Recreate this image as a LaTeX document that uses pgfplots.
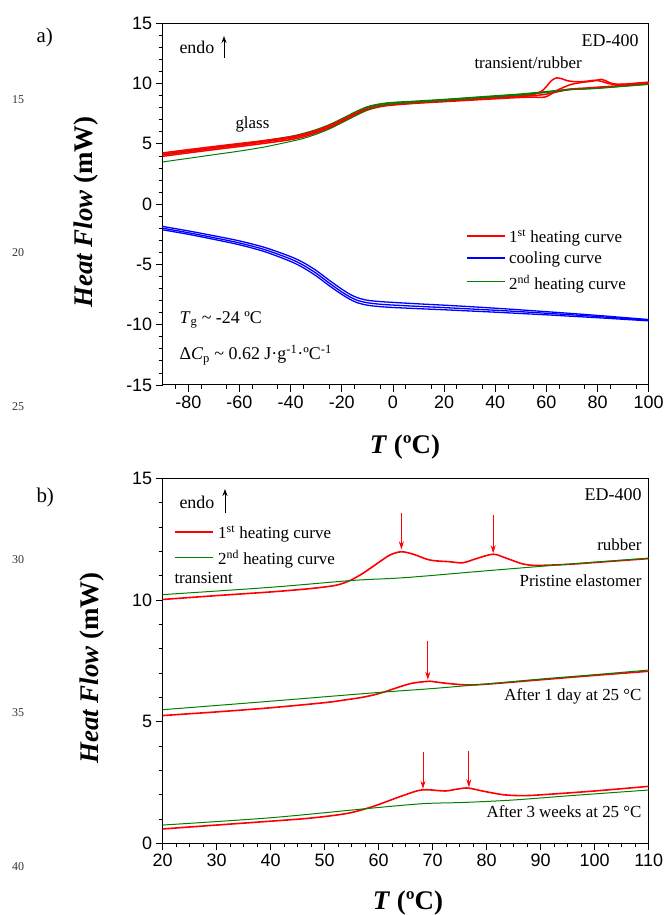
\documentclass[border=0pt]{standalone}
\usepackage{pgfplots}
\pgfplotsset{compat=1.18}
\usetikzlibrary{arrows.meta}
\usepackage{fontspec}
\setmainfont{Liberation Serif}
\newfontfamily\arialfont{Liberation Sans}
\definecolor{dgreen}{RGB}{0,128,0}
\pgfplotsset{dsc/.style={
  scale only axis, width=486bp,
  axis line style={line width=1bp},
  tick align=outside, xtick pos=left, ytick pos=left,
  major tick length=7bp, minor tick length=4bp,
  every tick/.style={black, line width=0.8bp},
  tick label style={font=\fontsize{18}{18}\selectfont\arialfont},
  /pgf/number format/assume math mode=true,
}}
\begin{document}
\begin{tikzpicture}
\path[use as bounding box] (0,0) rectangle (666bp,915bp);
% ---------------- panel a ----------------
\begin{axis}[dsc, at={(162.7bp,530bp)}, anchor=south west, height=361.7bp,
  xmin=-90, xmax=100, ymin=-15, ymax=15,
  xtick={-80,-60,...,100}, minor xtick={-85,-75,...,95},
  ytick={-15,-10,...,15}, minor ytick={-14,-13,...,14}]
\addplot[dgreen, line width=1.2bp, smooth] coordinates {(-90,4.08) (-80,4.35) (-70,4.62) (-60,4.9) (-50,5.2) (-40,5.55) (-35,5.8) (-30,6.1) (-25,6.5) (-20,7.0) (-15,7.55) (-10,8.02) (-5,8.28) (0,8.4) (10,8.52) (20,8.65) (30,8.8) (40,8.95) (50,9.1) (60,9.3) (65,9.4) (70,9.52) (75,9.55) (80,9.62) (90,9.78) (100,9.95)};
\addplot[dgreen, line width=1.2bp, smooth] coordinates {(-90,4.16) (-80,4.43) (-70,4.7) (-60,4.98) (-50,5.28) (-40,5.62) (-35,5.87) (-30,6.18) (-25,6.58) (-20,7.08) (-15,7.62) (-10,8.08) (-5,8.32) (0,8.44) (10,8.56) (20,8.69) (30,8.84) (40,8.99) (50,9.14) (60,9.34) (65,9.45) (70,9.56) (75,9.6) (80,9.66) (90,9.82) (100,9.98)};
\addplot[red, line width=1.5bp, smooth] coordinates {(-90,4.25) (-80,4.52) (-70,4.78) (-60,5.03) (-50,5.28) (-40,5.58) (-35,5.8) (-30,6.1) (-25,6.5) (-20,6.98) (-15,7.5) (-10,7.93) (-5,8.18) (0,8.3) (5,8.38) (10,8.45) (20,8.58) (30,8.72) (40,8.86) (50,9.0) (55,9.1) (58,9.35) (60,9.75) (62,10.25) (64,10.47) (66,10.4) (68,10.25) (70,10.18) (73,10.15) (76,10.2) (78,10.26) (80,10.25) (82,10.15) (84,10.02) (86,9.95) (90,9.95) (95,10.03) (100,10.12)};
\addplot[red, line width=1.5bp, smooth] coordinates {(-90,3.97) (-80,4.25) (-70,4.52) (-60,4.78) (-50,5.05) (-40,5.35) (-35,5.58) (-30,5.9) (-25,6.3) (-20,6.78) (-15,7.32) (-10,7.8) (-5,8.08) (0,8.22) (10,8.38) (20,8.5) (30,8.62) (40,8.74) (50,8.85) (55,8.88) (58,8.85) (60,8.92) (62,9.15) (64,9.42) (66,9.62) (68,9.8) (70,9.95) (74,10.1) (78,10.2) (80,10.3) (81.5,10.35) (83,10.25) (85,10.05) (88,9.93) (92,9.95) (100,10.08)};
\addplot[red, line width=1.5bp, smooth] coordinates {(-90,4.1) (-80,4.38) (-70,4.65) (-60,4.9) (-50,5.17) (-40,5.47) (-35,5.7) (-30,6.0) (-25,6.4) (-20,6.88) (-15,7.42) (-10,7.87) (-5,8.13) (0,8.26) (10,8.41) (20,8.54) (30,8.67) (40,8.8) (50,8.93) (55,9.0) (60,9.12) (65,9.35) (70,9.55) (75,9.62) (80,9.7) (90,9.85) (100,10.05)};
\addplot[blue, line width=1.3bp, smooth] coordinates {(-90,-1.85) (-80,-2.22) (-70,-2.62) (-60,-3.05) (-50,-3.6) (-40,-4.35) (-35,-4.85) (-30,-5.5) (-25,-6.3) (-20,-7.05) (-17,-7.45) (-14,-7.75) (-10,-7.97) (-5,-8.08) (0,-8.15) (10,-8.27) (20,-8.38) (30,-8.5) (40,-8.63) (50,-8.77) (60,-8.92) (70,-9.07) (80,-9.23) (90,-9.4) (100,-9.57)};
\addplot[blue, line width=1.3bp, smooth] coordinates {(-90,-2.0) (-80,-2.37) (-70,-2.78) (-60,-3.22) (-50,-3.78) (-40,-4.55) (-35,-5.07) (-30,-5.73) (-25,-6.53) (-20,-7.28) (-17,-7.67) (-14,-7.97) (-10,-8.18) (-5,-8.3) (0,-8.37) (10,-8.48) (20,-8.58) (30,-8.69) (40,-8.8) (50,-8.92) (60,-9.05) (70,-9.18) (80,-9.32) (90,-9.47) (100,-9.62)};
\addplot[blue, line width=1.3bp, smooth] coordinates {(-90,-2.13) (-80,-2.5) (-70,-2.92) (-60,-3.37) (-50,-3.95) (-40,-4.75) (-35,-5.28) (-30,-5.95) (-25,-6.75) (-20,-7.48) (-17,-7.87) (-14,-8.17) (-10,-8.38) (-5,-8.5) (0,-8.57) (10,-8.67) (20,-8.76) (30,-8.86) (40,-8.96) (50,-9.07) (60,-9.18) (70,-9.3) (80,-9.42) (90,-9.55) (100,-9.68)};
\addplot[dgreen, line width=1bp, smooth] coordinates {(-90,3.5) (-80,3.8) (-70,4.1) (-60,4.4) (-50,4.75) (-40,5.2) (-35,5.45) (-30,5.8) (-25,6.22) (-20,6.75) (-15,7.3) (-10,7.82) (-5,8.15) (0,8.32) (10,8.47) (20,8.6) (30,8.75) (40,8.9) (50,9.05) (60,9.25) (65,9.38) (70,9.5) (80,9.6) (90,9.77) (100,9.93)};
\end{axis}
% ---------------- panel b ----------------
\begin{axis}[dsc, at={(162.7bp,71.7bp)}, anchor=south west, height=365bp,
  xmin=20, xmax=110, ymin=0, ymax=15,
  xtick={20,30,...,110}, minor tick num=3,
  ytick={0,5,10,15}, minor ytick={1,2,...,14}]
\addplot[red, line width=1.6bp, smooth] coordinates {(20,10.02) (30,10.18) (40,10.33) (47,10.46) (52,10.6) (54.7,10.8) (57.1,11.1) (59.6,11.48) (62.1,11.85) (64.2,11.98) (66.4,11.88) (69.5,11.64) (73.2,11.57) (75.6,11.53) (78.1,11.7) (81.2,11.88) (83.7,11.71) (86.7,11.48) (89.2,11.42) (94.8,11.46) (100,11.54) (110,11.7)};
\addplot[dgreen, line width=1bp, smooth] coordinates {(20,10.22) (40,10.52) (55,10.8) (65,10.92) (80,11.2) (95,11.47) (110,11.72)};
\addplot[red, line width=1.6bp, smooth] coordinates {(20,5.25) (30,5.4) (40,5.57) (50,5.78) (54,5.9) (57,6.0) (60,6.15) (63.6,6.41) (66,6.57) (68.3,6.64) (69.5,6.66) (72.3,6.58) (76.2,6.51) (80,6.54) (90,6.72) (100,6.9) (110,7.07)};
\addplot[dgreen, line width=1bp, smooth] coordinates {(20,5.49) (40,5.84) (60,6.2) (70,6.36) (80,6.55) (90,6.75) (100,6.93) (110,7.12)};
\addplot[red, line width=1.6bp, smooth] coordinates {(20,0.59) (30,0.75) (36.9,0.86) (47.1,1.03) (54.2,1.23) (58.9,1.51) (63.6,1.89) (67.2,2.16) (69.1,2.2) (72.3,2.15) (74.6,2.23) (76.6,2.27) (79.4,2.14) (83.3,1.99) (87.2,1.96) (91.9,2.02) (100,2.15) (110,2.34)};
\addplot[dgreen, line width=1bp, smooth] coordinates {(20,0.75) (40,1.05) (58.9,1.45) (68.3,1.63) (76,1.68) (85,1.78) (95,1.95) (110,2.19)};
\draw[red, line width=0.9bp, -{Stealth[length=8bp,width=5bp]}] (axis cs:64.2,13.59) -- (axis cs:64.2,12.08);
\draw[red, line width=0.9bp, -{Stealth[length=8bp,width=5bp]}] (axis cs:81.2,13.49) -- (axis cs:81.2,11.92);
\draw[red, line width=0.9bp, -{Stealth[length=8bp,width=5bp]}] (axis cs:69.1,8.33) -- (axis cs:69.1,6.72);
\draw[red, line width=0.9bp, -{Stealth[length=8bp,width=5bp]}] (axis cs:68.2,3.74) -- (axis cs:68.2,2.24);
\draw[red, line width=0.9bp, -{Stealth[length=8bp,width=5bp]}] (axis cs:76.7,3.81) -- (axis cs:76.7,2.3);
\end{axis}
% ---------------- legend panel a ----------------
\draw[red, line width=1.6bp] (467bp,679bp) -- (505bp,679bp);
\draw[blue, line width=1.6bp] (467bp,657bp) -- (505bp,657bp);
\draw[dgreen, line width=1bp] (467bp,633bp) -- (505bp,633bp);
\node[anchor=west, font=\fontsize{17}{17}\selectfont, inner sep=0pt] at (509bp,677bp) {1\textsuperscript{st} heating curve};
\node[anchor=west, font=\fontsize{17}{17}\selectfont, inner sep=0pt] at (509bp,656bp) {cooling curve};
\node[anchor=west, font=\fontsize{17}{17}\selectfont, inner sep=0pt] at (509bp,631bp) {2\textsuperscript{nd} heating curve};
% ---------------- legend panel b ----------------
\draw[red, line width=1.6bp] (175bp,382.7bp) -- (213bp,382.7bp);
\draw[dgreen, line width=1bp] (175bp,357.3bp) -- (213bp,357.3bp);
\node[anchor=west, font=\fontsize{17}{17}\selectfont, inner sep=0pt] at (218bp,381bp) {1\textsuperscript{st} heating curve};
\node[anchor=west, font=\fontsize{17}{17}\selectfont, inner sep=0pt] at (218bp,355.5bp) {2\textsuperscript{nd} heating curve};
% ---------------- texts panel a ----------------
\node[anchor=west, font=\fontsize{21}{21}\selectfont] at (33bp,878bp) {a)};
\node[anchor=west, font=\fontsize{18}{18}\selectfont] at (176bp,868bp) {endo};
\draw[line width=1bp, -{Stealth[length=7bp,width=5bp]}] (224bp,857bp) -- (224bp,879bp);
\node[anchor=east, font=\fontsize{18}{18}\selectfont] at (642bp,874bp) {ED-400};
\node[anchor=west, font=\fontsize{17}{17}\selectfont] at (471bp,852bp) {transient/rubber};
\node[anchor=west, font=\fontsize{17}{17}\selectfont] at (232bp,791bp) {glass};
\node[anchor=west, font=\fontsize{18}{18}\selectfont] at (176bp,595bp) {\textit{T}\textsubscript{g} \textasciitilde{} -24 ºC};
\node[anchor=west, font=\fontsize{18}{18}\selectfont] at (176bp,560bp) {Δ\textit{C}\textsubscript{p} \textasciitilde{} 0.62 J·g\textsuperscript{-1}·ºC\textsuperscript{-1}};
\node[rotate=90, font=\fontsize{27}{27}\selectfont\bfseries] at (86bp,703bp) {\textit{Heat Flow} (mW)};
\node[font=\fontsize{27}{27}\selectfont\bfseries] at (405bp,468bp) {\textit{T} (ºC)};
% ---------------- texts panel b ----------------
\node[anchor=west, font=\fontsize{21}{21}\selectfont] at (33bp,418bp) {b)};
\node[anchor=west, font=\fontsize{18}{18}\selectfont] at (176bp,413bp) {endo};
\draw[line width=1bp, -{Stealth[length=7bp,width=5bp]}] (225bp,402bp) -- (225bp,426bp);
\node[anchor=east, font=\fontsize{18}{18}\selectfont] at (645bp,420bp) {ED-400};
\node[anchor=west, font=\fontsize{17}{17}\selectfont] at (171bp,337bp) {transient};
\node[anchor=east, font=\fontsize{17}{17}\selectfont] at (645bp,370bp) {rubber};
\node[anchor=east, font=\fontsize{17}{17}\selectfont] at (645bp,334bp) {Pristine elastomer};
\node[anchor=east, font=\fontsize{17}{17}\selectfont] at (645bp,219bp) {After 1 day at 25 °C};
\node[anchor=east, font=\fontsize{17}{17}\selectfont] at (645bp,103bp) {After 3 weeks at 25 °C};
\node[rotate=90, font=\fontsize{27}{27}\selectfont\bfseries] at (92bp,247bp) {\textit{Heat Flow} (mW)};
\node[font=\fontsize{27}{27}\selectfont\bfseries] at (408bp,12bp) {\textit{T} (ºC)};
% ---------------- manuscript line numbers ----------------
\foreach \n/\yy in {15/815,20/662,25/508,30/355,35/202,40/48}
  \node[font=\fontsize{12}{12}\selectfont, text=black!80] at (18bp,\yy bp) {\n};
\end{tikzpicture}
\end{document}
